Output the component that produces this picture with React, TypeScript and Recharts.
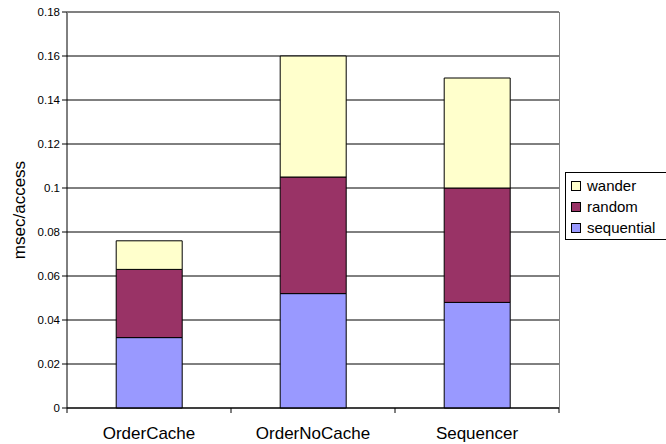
import React from "react";
import {
  BarChart,
  Bar,
  XAxis,
  YAxis,
  CartesianGrid,
  Label,
} from "recharts";

const categories = ["OrderCache", "OrderNoCache", "Sequencer"];
const sequential = [0.032, 0.052, 0.048];
const random = [0.031, 0.053, 0.052];
const wander = [0.013, 0.055, 0.05];
const yTicks = [0, 0.02, 0.04, 0.06, 0.08, 0.1, 0.12, 0.14, 0.16, 0.18];

const data = categories.map((name, i) => ({
  name,
  sequential: sequential[i],
  random: random[i],
  wander: wander[i],
}));

const FONT = "Arial, 'Liberation Sans', sans-serif";
const W = 666;
const H = 444;
const PLOT_LEFT = 67;
const PLOT_TOP = 12;
const PLOT_RIGHT = 559;
const PLOT_BOTTOM = 408;
const BAND = (PLOT_RIGHT - PLOT_LEFT) / categories.length;

const legendItems = [
  { label: "wander", color: "#FFFFCC" },
  { label: "random", color: "#993366" },
  { label: "sequential", color: "#9999FF" },
];

// category label plus tick marks on the band edges
const CategoryTick = (props: any) => {
  const { x, payload, index } = props;
  const left = x - BAND / 2;
  return (
    <g>
      <line x1={left} y1={PLOT_BOTTOM} x2={left} y2={PLOT_BOTTOM + 5} stroke="#000" />
      {index === categories.length - 1 && (
        <line x1={left + BAND} y1={PLOT_BOTTOM} x2={left + BAND} y2={PLOT_BOTTOM + 5} stroke="#000" />
      )}
      <text
        x={x}
        y={PLOT_BOTTOM + 31}
        textAnchor="middle"
        fontFamily={FONT}
        fontSize={17}
        fill="#000"
      >
        {payload.value}
      </text>
    </g>
  );
};

const LegendBox = () => (
  <div
    style={{
      position: "absolute",
      left: 565,
      top: 172,
      border: "1px solid #000",
      background: "#fff",
      padding: "2px 0 1px 5px",
      width: 110,
      fontFamily: FONT,
      fontSize: 15,
      lineHeight: "21px",
    }}
  >
    {legendItems.map((it) => (
      <div key={it.label} style={{ display: "flex", alignItems: "center" }}>
        <span
          style={{
            display: "inline-block",
            width: 8,
            height: 8,
            border: "1px solid #000",
            background: it.color,
            marginRight: 6,
          }}
        />
        <span>{it.label}</span>
      </div>
    ))}
  </div>
);

export default function App() {
  return (
    <div
      style={{
        position: "absolute",
        left: 0,
        top: 0,
        width: W,
        height: H,
        background: "#fff",
        overflow: "hidden",
      }}
    >
      <BarChart
        width={W}
        height={H}
        data={data}
        margin={{ top: PLOT_TOP, right: W - PLOT_RIGHT, bottom: 0, left: 0 }}
        barCategoryGap="30%"
      >
        <CartesianGrid vertical={false} stroke="#000" horizontalValues={yTicks} />
        <XAxis
          dataKey="name"
          height={H - PLOT_BOTTOM}
          axisLine={{ stroke: "#000" }}
          tickLine={false}
          tick={<CategoryTick />}
          interval={0}
        />
        <YAxis
          width={PLOT_LEFT}
          domain={[0, 0.18]}
          ticks={yTicks}
          interval={0}
          axisLine={{ stroke: "#000" }}
          tickLine={{ stroke: "#000" }}
          tickSize={5}
          tick={{ fill: "#000", fontFamily: FONT, fontSize: 11.5 }}
          tickFormatter={(v: number) => String(Number(v.toFixed(2)))}
        >
          <Label
            value="msec/access"
            angle={-90}
            position="insideLeft"
            offset={19}
            style={{ fontFamily: FONT, fontSize: 17, fill: "#000", textAnchor: "middle" }}
          />
        </YAxis>
        <Bar dataKey="sequential" stackId="s" fill="#9999FF" stroke="#000" strokeWidth={1} isAnimationActive={false} />
        <Bar dataKey="random" stackId="s" fill="#993366" stroke="#000" strokeWidth={1} isAnimationActive={false} />
        <Bar dataKey="wander" stackId="s" fill="#FFFFCC" stroke="#000" strokeWidth={1} isAnimationActive={false} />
      </BarChart>
      {/* plot area frame */}
      <div
        style={{
          position: "absolute",
          left: PLOT_LEFT,
          top: PLOT_TOP,
          width: PLOT_RIGHT - PLOT_LEFT + 1,
          height: PLOT_BOTTOM - PLOT_TOP,
          borderTop: "1px solid #808080",
          borderRight: "1px solid #808080",
          boxSizing: "border-box",
          pointerEvents: "none",
        }}
      />
      <LegendBox />
    </div>
  );
}
